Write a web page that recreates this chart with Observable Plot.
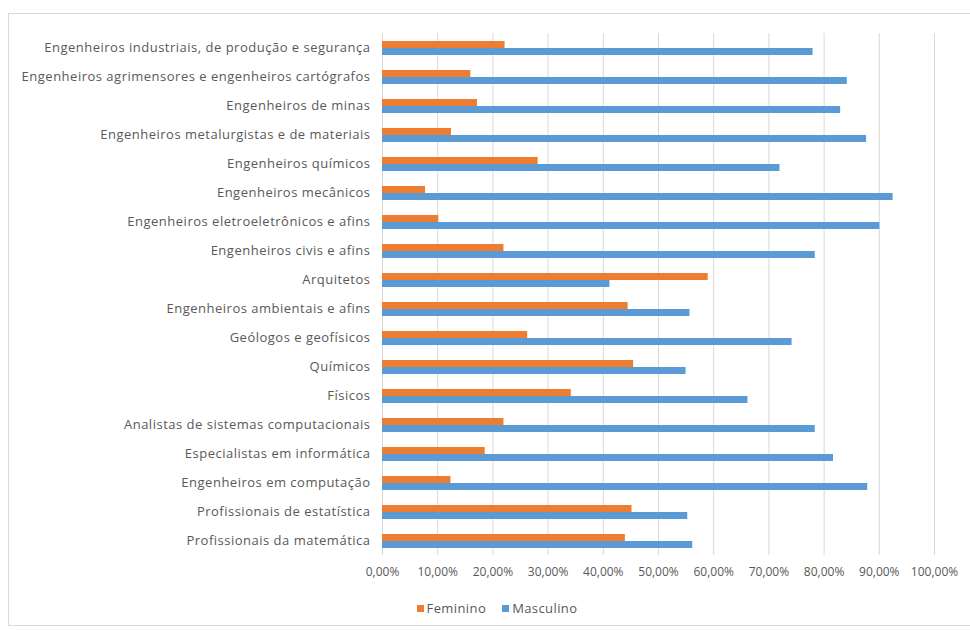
<!DOCTYPE html>
<html>
<head>
<meta charset="utf-8">
<script src="https://cdn.jsdelivr.net/npm/d3@7"></script>
<script src="https://cdn.jsdelivr.net/npm/@observablehq/plot@0.6"></script>
<style>
  html, body { margin: 0; padding: 0; background: #fff; width: 970px; height: 630px; overflow: hidden; }
  #frame { position: absolute; left: 8px; top: 13px; width: 990px; height: 613px; border: 1px solid #d9d9d9; box-sizing: border-box; }
  #chart { position: absolute; left: 0; top: 0; }
  #chart g[aria-label="fy-axis tick label"] text { letter-spacing: 0.5px; }
  #legend { position: absolute; top: 599px; left: 0; width: 994px; text-align: center; font-family: "Open Sans", sans-serif; font-size: 13px; letter-spacing: 0.4px; color: #595959; }
  #legend span.item { display: inline-block; margin: 0 8px; }
  #legend span.sw { display: inline-block; width: 7px; height: 7px; margin-right: 3px; vertical-align: 1px; }
</style>
</head>
<body>
<div id="frame"></div>
<div id="chart"></div>
<div id="legend"></div>
<script>
const categories = [
  "Engenheiros industriais, de produção e segurança",
  "Engenheiros agrimensores e engenheiros cartógrafos",
  "Engenheiros de minas",
  "Engenheiros metalurgistas e de materiais",
  "Engenheiros químicos",
  "Engenheiros mecânicos",
  "Engenheiros eletroeletrônicos e afins",
  "Engenheiros civis e afins",
  "Arquitetos",
  "Engenheiros ambientais e afins",
  "Geólogos e geofísicos",
  "Químicos",
  "Físicos",
  "Analistas de sistemas computacionais",
  "Especialistas em informática",
  "Engenheiros em computação",
  "Profissionais de estatística",
  "Profissionais da matemática"
];
const series = ["Feminino", "Masculino"];
const feminino  = [22.2, 16.0, 17.2, 12.5, 28.2, 7.8, 10.2, 22.0, 59.0, 44.5, 26.3, 45.5, 34.2, 22.0, 18.6, 12.4, 45.2, 44.0];
const masculino = [78.0, 84.2, 83.0, 87.7, 72.0, 92.5, 90.1, 78.4, 41.2, 55.7, 74.2, 55.0, 66.2, 78.4, 81.7, 87.9, 55.3, 56.2];
const xTicks = [0, 0.1, 0.2, 0.3, 0.4, 0.5, 0.6, 0.7, 0.8, 0.9, 1.0];
const colors = ["#ED7D31", "#5B9BD5"];

const data = categories.flatMap((c, i) => [
  {cat: c, serie: series[0], v: feminino[i] / 100},
  {cat: c, serie: series[1], v: masculino[i] / 100}
]);

const fmt = d => (d * 100).toFixed(2).replace(".", ",") + "%";

const chart = Plot.plot({
  width: 970,
  height: 590,
  marginLeft: 382,
  marginRight: 36,
  marginTop: 32,
  marginBottom: 34,
  style: {color: "#595959", fontFamily: "Open Sans, sans-serif", fontSize: "12px", background: "transparent"},
  x: {domain: [0, 1]},
  fy: {domain: categories, padding: 0, label: null},
  y: {domain: series, axis: null, paddingInner: 0, paddingOuter: 0.82},
  color: {domain: series, range: colors},
  marks: [
    Plot.gridX(xTicks, {stroke: "#d9d9d9", strokeOpacity: 1}),
    Plot.barX(data, {fy: "cat", y: "serie", x: "v", fill: "serie"}),
    Plot.axisFy({anchor: "left", tickSize: 0, tickPadding: 12, label: null, fontSize: 13}),
    Plot.axisX(xTicks, {tickSize: 0, tickPadding: 12, tickFormat: fmt, label: null, fontSize: 12})
  ]
});
document.getElementById("chart").appendChild(chart);

const legend = document.getElementById("legend");
series.forEach((s, i) => {
  const item = document.createElement("span");
  item.className = "item";
  const sw = document.createElement("span");
  sw.className = "sw";
  sw.style.background = colors[i];
  item.appendChild(sw);
  item.appendChild(document.createTextNode(s));
  legend.appendChild(item);
});
</script>
</body>
</html>
